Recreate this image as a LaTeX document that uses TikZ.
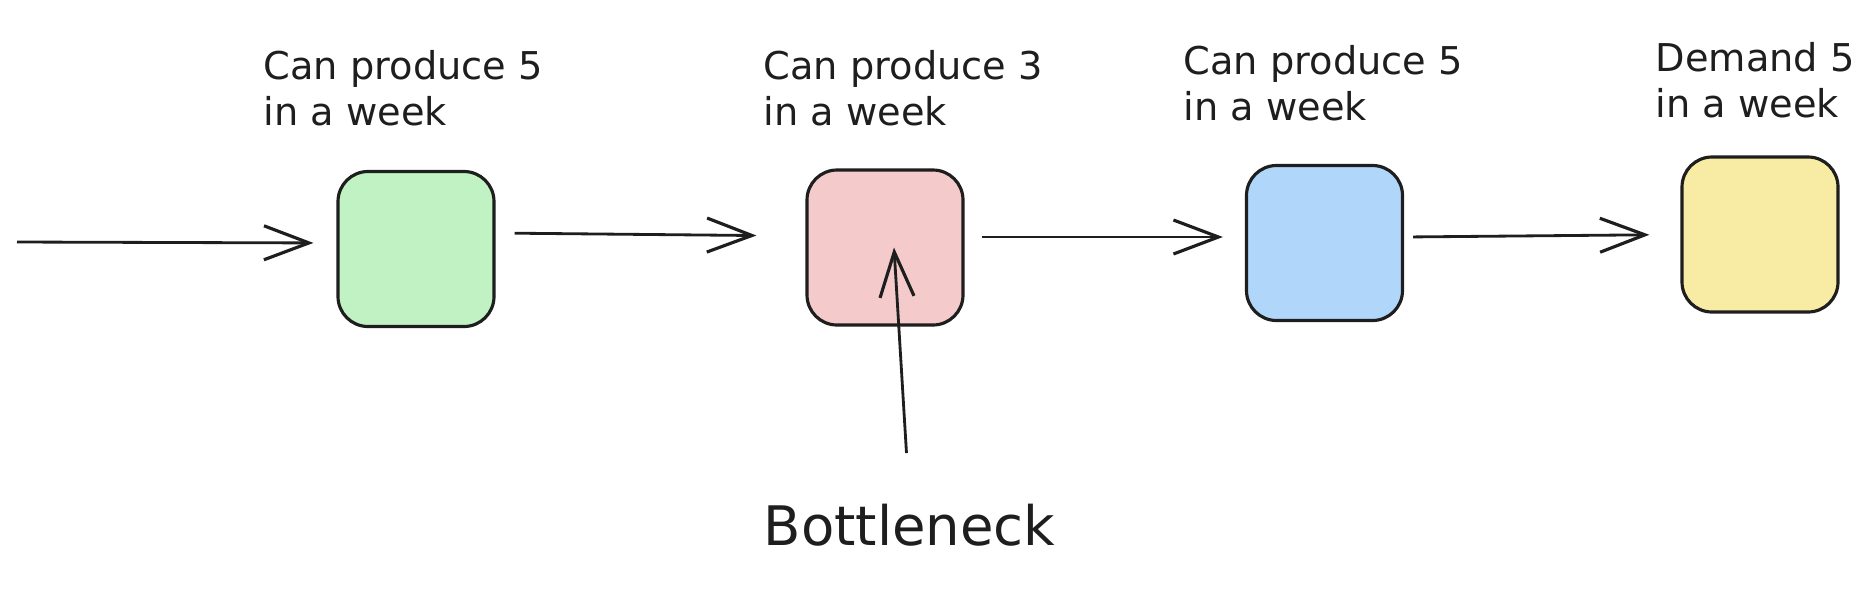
\documentclass[tikz,border=0pt]{standalone}
\usepackage{fontspec}
\setmainfont{DejaVu Sans}
\usepackage{tikz}
\usetikzlibrary{arrows.meta}
\usepackage{xcolor}

\definecolor{boxgreen}{HTML}{C0F2C3}
\definecolor{boxred}{HTML}{F4CACA}
\definecolor{boxblue}{HTML}{B0D6FA}
\definecolor{boxyellow}{HTML}{F8ECA4}
\definecolor{ink}{HTML}{1E1E1E}

\tikzset{
  stage/.style={draw=ink, line width=0.9pt, rounded corners=0.3cm,
    minimum width=1.56cm, minimum height=1.55cm, inner sep=0pt},
  flow/.style={draw=ink, line width=0.8pt,
    -{Straight Barb[length=0.45cm, width=0.34cm, line width=0.9pt]}},
  note/.style={anchor=base west, align=left, inner sep=0pt, text=ink,
    font=\fontsize{10.9pt}{13pt}\selectfont},
}

\begin{document}
\begin{tikzpicture}
    \useasboundingbox (0cm, 0cm) rectangle (18.7cm, 5.96cm);

    % Stations
    \node[stage, fill=boxgreen]  (p1)  at (4.16cm, 3.47cm)   {};
    \node[stage, fill=boxred]    (p2)  at (8.85cm, 3.485cm)  {};
    \node[stage, fill=boxblue]   (p3)  at (13.245cm, 3.53cm) {};
    \node[stage, fill=boxyellow] (dem) at (17.6cm, 3.615cm)  {};

    % Capacities (base = last line)
    \node[note] (t1) at (2.63cm, 4.71cm)  {Can produce 5\\in a week};
    \node[note] (t2) at (7.63cm, 4.71cm)  {Can produce 3\\in a week};
    \node[note] (t3) at (11.83cm, 4.76cm) {Can produce 5\\in a week};
    \node[note] (t4) at (16.55cm, 4.79cm) {Demand 5\\in a week};

    \node[anchor=base west, inner sep=0pt, text=ink,
      font=\fontsize{15.5pt}{18pt}\selectfont] (neck) at (7.63cm, .51cm) {Bottleneck};

    % Flow
    \coordinate (in) at (.17cm, 3.54cm);
    \draw[flow, shorten >=.23cm] (in) -- ([yshift=.06cm]p1.west);
    \draw[flow, shorten <=.19cm, shorten >=.49cm]
      ([yshift=.16cm]p1.east) -- ([yshift=.115cm]p2.west);
    \draw[flow, shorten <=.17cm, shorten >=.22cm]
      ([yshift=.105cm]p2.east) -- ([yshift=.06cm]p3.west);
    \draw[flow, shorten <=.09cm, shorten >=.31cm]
      ([yshift=.06cm]p3.east) -- (dem.west);

    % Pointer
    \draw[flow, shorten <=.5cm] (neck.north) -- ([xshift=.09cm]p2.center);
\end{tikzpicture}
\end{document}
